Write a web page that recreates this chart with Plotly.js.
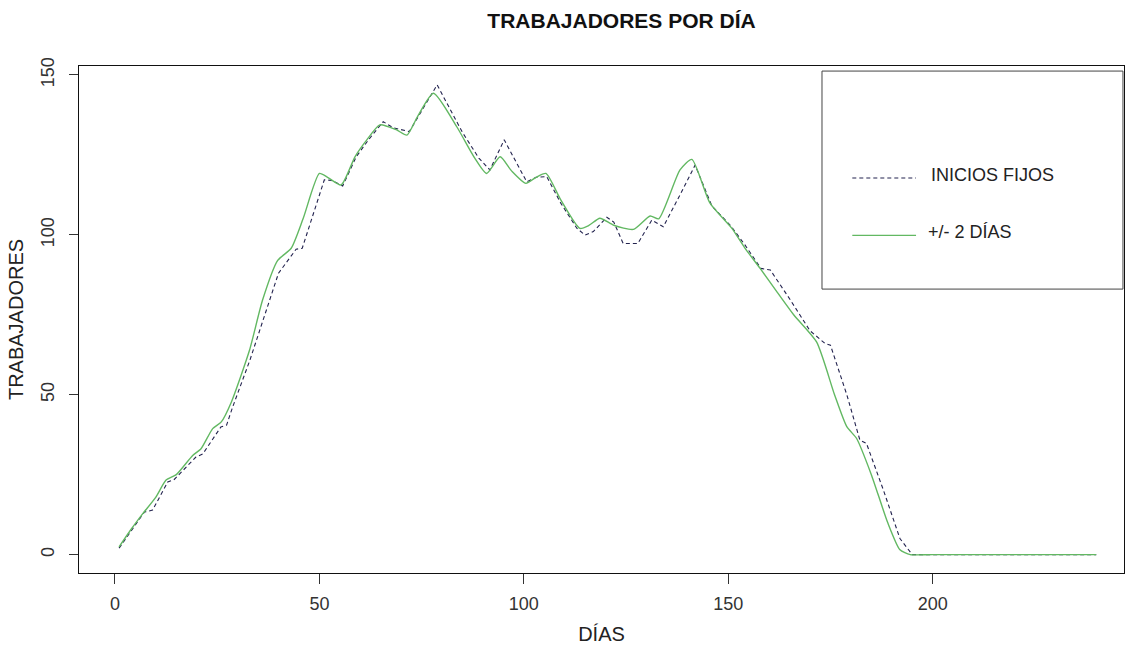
<!DOCTYPE html>
<html>
<head>
<meta charset="utf-8">
<script src="https://cdn.plot.ly/plotly-3.0.1.min.js"></script>
<style>html,body{margin:0;padding:0;background:#fff;}#chart{width:1126px;height:645px;}</style>
</head>
<body>
<div id="chart"></div>
<script>
// INICIOS FIJOS (dashed)
const diasFijos = [1, 7.2, 9.2, 12.9, 14.5, 19.8, 21.5, 25.9, 27.3, 28.8, 33, 37, 40, 44.3, 45.8, 51.2, 53, 55.7, 59, 62, 65.6, 68, 70, 72, 78.8, 85, 89, 91.7, 95.2, 98, 100.7, 103, 105.6, 109, 113, 115, 117, 120.3, 122, 124.3, 127.9, 131.3, 134.1, 138, 141.9, 146, 150.5, 154, 158, 160.3, 165, 170, 173.7, 175, 179, 182.2, 183.8, 188, 192, 195, 240];
const trabFijos = [2, 13.3, 13.9, 22.7, 23.5, 30.5, 31.5, 39.9, 40.5, 46.2, 60.8, 76, 88, 95.5, 95.8, 117.2, 117, 115.3, 124.4, 129.7, 135.4, 133.5, 133, 132.3, 146.9, 132, 124, 120.3, 129.7, 123, 116.6, 118, 118.2, 110, 102, 99.9, 101, 105.5, 104, 97.3, 97.3, 104.6, 102.5, 112, 121.8, 109, 103, 97, 89.5, 89, 80, 70, 66, 65.5, 50, 35.8, 34.8, 20, 5, 0, 0];

// +/- 2 DÍAS (green)
const diasVar = [1, 4, 6.8, 10, 12.5, 15, 19, 21, 23.9, 26, 28.4, 32.9, 36.1, 39.8, 43.1, 46, 50, 52, 55.3, 58.7, 61.6, 64.8, 68.9, 71.4, 74, 77.9, 83.6, 88, 90.9, 94.2, 97, 100.5, 103, 105.4, 109, 113.7, 116, 118.6, 122, 126.8, 130.9, 133, 138.2, 141.1, 145.5, 150.9, 154, 157.8, 162, 166, 171.6, 176, 179, 181.4, 185, 189, 192, 194.5, 200, 240];
const trabVar = [2.4, 8, 12.8, 18, 23.3, 25, 31, 33, 39.4, 41.5, 47.5, 63.9, 79.6, 92, 95.8, 105, 119.2, 118, 115.6, 124.4, 129.7, 134.4, 132.8, 131.2, 137, 144.3, 133.8, 124, 119.2, 124.4, 120, 116.1, 118, 119.2, 111, 102, 103, 105.2, 103, 101.7, 105.9, 105, 120.3, 123.6, 110, 102, 96, 89.5, 82, 75, 66.5, 50, 40, 36.3, 25, 10, 1.5, 0, 0, 0];

const xTicks = [0, 50, 100, 150, 200];
const yTicks = [0, 50, 100, 150];
const serieNames = ["INICIOS FIJOS", "+/- 2 DÍAS"];

const FONT = "Liberation Sans Narrow, Arial Narrow, Liberation Sans, Arial, sans-serif";
const cDash = "#23234f";
const cGreen = "#62b862";

const traces = [
  {x: diasFijos, y: trabFijos, type: "scatter", mode: "lines", name: serieNames[0],
   line: {color: cDash, width: 1.1, dash: "4px,3px"}},
  {x: diasVar, y: trabVar, type: "scatter", mode: "lines", name: serieNames[1],
   line: {color: cGreen, width: 1.4, shape: "spline", smoothing: 0.6}}
];

const shapes = [
  {type: "rect", xref: "paper", yref: "paper", x0: 0.711, x1: 0.999, y0: 0.560, y1: 0.990,
   line: {color: "#444", width: 1}, fillcolor: "rgba(255,255,255,0)"},
  {type: "line", xref: "paper", yref: "paper", x0: 0.740, x1: 0.801, y0: 0.779, y1: 0.779,
   line: {color: cDash, width: 1.1, dash: "4px,3px"}},
  {type: "line", xref: "paper", yref: "paper", x0: 0.740, x1: 0.801, y0: 0.666, y1: 0.666,
   line: {color: cGreen, width: 1.4}}
];

const annotations = [
  {xref: "paper", yref: "paper", x: 0.813, y: 0.785, text: serieNames[0], showarrow: false,
   xanchor: "left", yanchor: "middle", font: {family: FONT, size: 18, color: "#222"}},
  {xref: "paper", yref: "paper", x: 0.811, y: 0.672, text: serieNames[1], showarrow: false,
   xanchor: "left", yanchor: "middle", font: {family: FONT, size: 18, color: "#222"}}
];

const layout = {
  width: 1126, height: 645,
  margin: {l: 79, r: 2, t: 66, b: 72, pad: 0},
  paper_bgcolor: "#fff", plot_bgcolor: "#fff",
  showlegend: false,
  title: {text: "<b>TRABAJADORES POR DÍA</b>", x: 0.552, xref: "container", xanchor: "center",
          y: 0.968, yref: "container", yanchor: "middle",
          font: {family: FONT, size: 21, color: "#111"}},
  xaxis: {range: [-8.8, 246.8], tickvals: xTicks, ticktext: xTicks.map(String),
          showgrid: false, zeroline: false, showline: true, mirror: true, linecolor: "#111", linewidth: 1,
          ticks: "outside", ticklen: 10, tickcolor: "#333", tickwidth: 1,
          tickfont: {family: FONT, size: 18, color: "#333"}, ticklabelstandoff: 4,
          title: {text: "DÍAS", font: {family: FONT, size: 20, color: "#222"}, standoff: 14}},
  yaxis: {range: [-5.76, 152.8], tickvals: yTicks, ticktext: yTicks.map(String),
          showgrid: false, zeroline: false, showline: true, mirror: true, linecolor: "#111", linewidth: 1,
          ticks: "outside", ticklen: 9, tickcolor: "#333", tickwidth: 1, tickangle: -90,
          tickfont: {family: FONT, size: 18, color: "#333"}, ticklabelstandoff: 8,
          title: {text: "TRABAJADORES", font: {family: FONT, size: 20, color: "#222"}, standoff: 8}},
  shapes: shapes,
  annotations: annotations
};

Plotly.newPlot("chart", traces, layout, {staticPlot: true, displayModeBar: false});
</script>
</body>
</html>
